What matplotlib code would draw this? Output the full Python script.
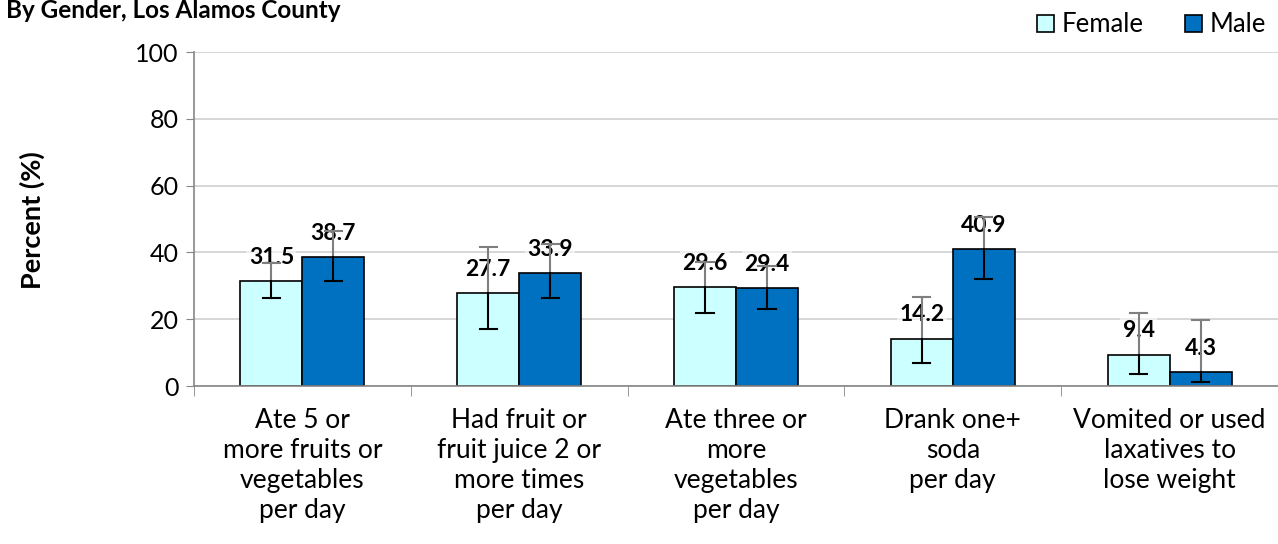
import matplotlib.pyplot as plt
import numpy as np

categories = [
    "Ate 5 or\nmore fruits or\nvegetables\nper day",
    "Had fruit or\nfruit juice 2 or\nmore times\nper day",
    "Ate three or\nmore\nvegetables\nper day",
    "Drank one+\nsoda\nper day",
    "Vomited or used\nlaxatives to\nlose weight",
]
female = [31.5, 27.7, 29.6, 14.2, 9.4]
male = [38.7, 33.9, 29.4, 40.9, 4.3]
female_lo = [26.4, 17.2, 22.0, 7.0, 3.7]
female_hi = [36.7, 41.7, 37.2, 26.7, 21.8]
male_lo = [31.5, 26.3, 23.0, 32.1, 1.1]
male_hi = [46.5, 42.5, 35.8, 50.7, 19.7]

plt.rcParams["font.family"] = ["Lato", "DejaVu Sans"]


def draw_series(ax, x, vals, lo, hi, color, label):
    ax.bar(x, vals, width, color=color, edgecolor="black", linewidth=1.2,
           label=label, zorder=2)
    for xi, v, l, h in zip(x, vals, lo, hi):
        # part of the error bar above the bar top is grey, inside is black
        ax.plot([xi, xi], [v, h], color="#7f7f7f", lw=1.5, zorder=5)
        ax.plot([xi - 0.04, xi + 0.04], [h, h], color="#7f7f7f", lw=1.5, zorder=5)
        ax.plot([xi, xi], [l, v], color="black", lw=1.5, zorder=5)
        ax.plot([xi - 0.04, xi + 0.04], [l, l], color="black", lw=1.5, zorder=5)
        ax.annotate(f"{v:.1f}", (xi, v), xytext=(0, 17), textcoords="offset points",
                    ha="center", va="center", fontsize=16.5, fontweight="bold",
                    zorder=4,
                    bbox=dict(boxstyle="square,pad=0.1", fc="white", ec="none", alpha=0.6))


fig = plt.figure(figsize=(12.78, 5.44), dpi=100)
ax = fig.add_axes([194 / 1278, 1 - 386 / 544, 1 - 194 / 1278, (386 - 52) / 544])

ind = np.arange(len(categories))
width = 0.286

draw_series(ax, ind - width / 2, female, female_lo, female_hi, "#CCFFFF", "Female")
draw_series(ax, ind + width / 2, male, male_lo, male_hi, "#0070C0", "Male")

ax.set_xlim(-0.5, len(categories) - 0.5)
ax.set_ylim(0, 100)
ax.set_yticks(range(0, 101, 20))
ax.tick_params(axis="y", labelsize=18, length=6, color="#868686", direction="out", pad=5)
ax.grid(axis="y", color="#d0d0d0", lw=1.2, zorder=0)
ax.set_axisbelow(True)

ax.set_xticks(ind)
ax.set_xticklabels(categories, fontsize=19, linespacing=1.24)
ax.set_xticks(np.arange(len(categories) + 1) - 0.5, minor=True)
ax.tick_params(axis="x", which="major", length=0, pad=16)
ax.tick_params(axis="x", which="minor", length=7, color="#868686")

for s in ["top", "right"]:
    ax.spines[s].set_visible(False)
for s in ["left", "bottom"]:
    ax.spines[s].set_color("#868686")
    ax.spines[s].set_linewidth(1.2)

fig.text(32 / 1278, 1 - 220 / 544, "Percent (%)", rotation=90, ha="center",
         va="center", fontsize=19.5, fontweight="bold")
fig.text(6 / 1278, 1 - 10 / 544, "By Gender, Los Alamos County", ha="left",
         va="center", fontsize=17.5, fontweight="bold")

ax.legend(loc="upper right", bbox_to_anchor=(1 - 2 / 1084, 1 + 50 / 334),
          ncol=2, frameon=False, fontsize=18.5, handlelength=0.65, handleheight=0.65,
          handletextpad=0.3, columnspacing=1.6, borderaxespad=0.0)

fig.savefig("out.png", dpi=100)
